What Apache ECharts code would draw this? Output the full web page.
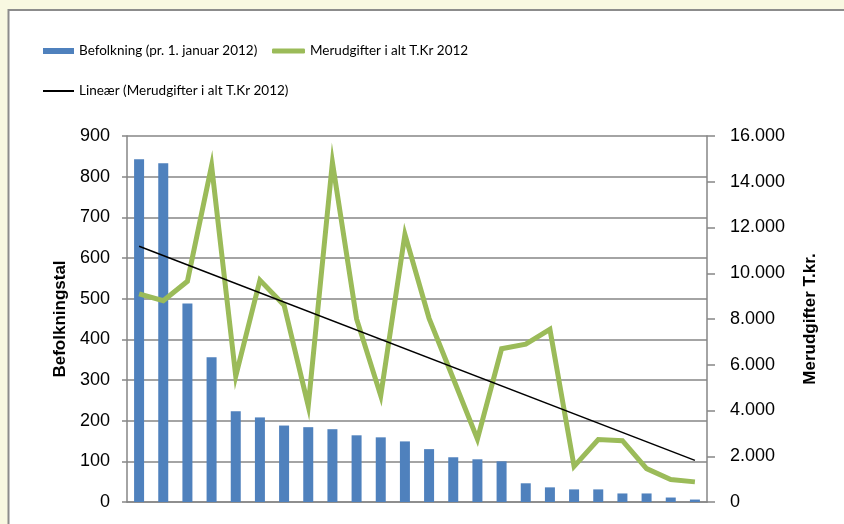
<!DOCTYPE html>
<html>
<head>
<meta charset="utf-8">
<script src="https://cdn.jsdelivr.net/npm/echarts@6/dist/echarts.min.js"></script>
<style>
  html, body { margin: 0; padding: 0; background: #f8f8e1; }
  #chart { width: 844px; height: 524px; }
</style>
</head>
<body>
<div id="chart"></div>
<script>
// kommuner (navne vises ikke i figuren)
const categories = ['1','2','3','4','5','6','7','8','9','10','11','12','13','14','15','16','17','18','19','20','21','22','23','24'];
const befolkning = [843, 833, 488, 356, 223, 208, 188, 184, 179, 164, 159, 149, 130, 110, 105, 100, 46, 36, 31, 31, 21, 21, 11, 6];
const merudgifter = [9100, 8800, 9650, 14700, 5500, 9700, 8600, 4200, 14850, 8000, 4650, 11700, 8030, 5400, 2750, 6700, 6900, 7550, 1560, 2730, 2680, 1460, 980, 880];
// trendlinje, aflæst ved første og sidste kategori
const trendEnds = [11180, 1820];
const leftTicks = { min: 0, max: 900, step: 100 };
const rightTicks = { min: 0, max: 16000, step: 2000 };

const grey = '#868686';
const legendFont = { fontFamily: 'Lato', fontSize: 13.5, color: '#000' };
const chart = echarts.init(document.getElementById('chart'));

const fmtDot = v => v === 0 ? '0' : String(v).replace(/\B(?=(\d{3})+(?!\d))/g, '.');

chart.setOption({
  backgroundColor: '#f8f8e1',
  animation: false,
  graphic: [{
    type: 'rect', z: -10,
    shape: { x: 8.5, y: 10, width: 900, height: 600 },
    style: { fill: '#fff', stroke: '#8c8c8c', lineWidth: 2 }
  }],
  textStyle: { fontFamily: 'Liberation Sans' },
  legend: [
    { data: [{ name: 'Befolkning (pr. 1. januar 2012)', icon: 'rect' }], left: 38, top: 39, itemWidth: 31, itemHeight: 6,
      textStyle: legendFont },
    { data: [{ name: 'Merudgifter i alt T.Kr 2012', icon: 'roundRect' }], left: 267, top: 39, itemWidth: 33, itemHeight: 5,
      textStyle: legendFont },
    { data: [{ name: 'Lineær (Merudgifter i alt T.Kr 2012)', icon: 'rect' }], left: 38, top: 79, itemWidth: 31, itemHeight: 2,
      textStyle: legendFont }
  ],
  grid: { left: 127, right: 137, top: 136, bottom: 22 },
  xAxis: {
    type: 'category', data: categories,
    axisLine: { lineStyle: { color: grey, width: 1.5 } },
    axisTick: { show: false }, axisLabel: { show: false }
  },
  yAxis: [
    {
      type: 'value', min: leftTicks.min, max: leftTicks.max, interval: leftTicks.step,
      name: 'Befolkningstal', nameLocation: 'middle', nameGap: 57, nameRotate: 90,
      nameTextStyle: { fontSize: 17, fontWeight: 'bold', color: '#000' },
      axisLine: { show: true, lineStyle: { color: grey, width: 1.5 } },
      axisTick: { show: true, length: 5, lineStyle: { color: grey, width: 1.5 } },
      axisLabel: { fontSize: 18, color: '#000', margin: 17 },
      splitLine: { lineStyle: { color: grey, width: 1.5 } }
    },
    {
      type: 'value', min: rightTicks.min, max: rightTicks.max, interval: rightTicks.step,
      name: 'Merudgifter T.kr.', nameLocation: 'middle', nameGap: 95, nameRotate: 90,
      nameTextStyle: { fontSize: 17, fontWeight: 'bold', color: '#000' },
      axisLine: { show: true, lineStyle: { color: grey, width: 1.5 } },
      axisTick: { show: true, length: 8, lineStyle: { color: grey, width: 1.5 } },
      axisLabel: { fontSize: 18, color: '#000', margin: 23, formatter: fmtDot },
      splitLine: { show: false }
    }
  ],
  series: [
    {
      name: 'Befolkning (pr. 1. januar 2012)', type: 'bar', data: befolkning,
      barWidth: 10, itemStyle: { color: '#4f81bd' }
    },
    {
      name: 'Merudgifter i alt T.Kr 2012', type: 'line', yAxisIndex: 1, data: merudgifter,
      symbol: 'none', lineStyle: { color: '#9bbb59', width: 5, join: 'miter' },
      itemStyle: { color: '#9bbb59' }
    },
    {
      name: 'Lineær (Merudgifter i alt T.Kr 2012)', type: 'line', yAxisIndex: 1,
      data: [[categories[0], trendEnds[0]], [categories[categories.length - 1], trendEnds[1]]],
      symbol: 'none', lineStyle: { color: '#000', width: 1.5 }, itemStyle: { color: '#000' }
    }
  ]
});
</script>
</body>
</html>
